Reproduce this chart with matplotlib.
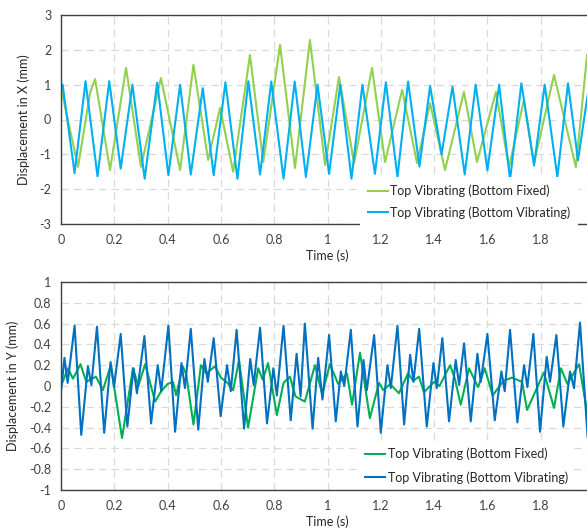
import matplotlib
matplotlib.use("Agg")
import matplotlib.pyplot as plt

plt.rcParams['font.family'] = ['Lato', 'DejaVu Sans']

# (time s, displacement mm) read at the turning points of each record
x_fixed = [(0, 0.9), (0.064, -1.36), (0.109, 0.76), (0.128, 1.16), (0.184, -1.45),
           (0.244, 1.48), (0.30, -1.36), (0.375, 1.19), (0.447, -1.45), (0.497, 1.57),
           (0.552, -1.16), (0.597, 0.33), (0.646, -1.5), (0.709, 1.85), (0.759, -1.22),
           (0.822, 2.14), (0.878, -1.39), (0.934, 2.28), (0.991, -1.31), (1.043, 1.22),
           (1.10, -1.25), (1.167, 1.48), (1.216, -1.22), (1.28, 0.85), (1.336, -1.25),
           (1.385, 0.47), (1.441, -1.45), (1.512, 0.79), (1.561, -1.22), (1.632, 0.79),
           (1.681, -1.37), (1.737, 0.56), (1.775, -1.25), (1.85, 1.28), (1.932, -1.37),
           (1.974, 1.85)]

x_vibr = [(0, 0.95), (0.006, 1.0), (0.051, -1.54), (0.092, 1.1), (0.137, -1.63),
          (0.181, 1.1), (0.224, -1.41), (0.268, 1.0), (0.314, -1.7), (0.361, 1.06),
          (0.403, -1.6), (0.447, 1.0), (0.487, -1.58), (0.532, 0.9), (0.573, -1.6),
          (0.617, 1.07), (0.662, -1.7), (0.703, 1.1), (0.747, -1.58), (0.789, 1.09),
          (0.835, -1.7), (0.877, 1.09), (0.919, -1.65), (0.9625, 1.0), (1.006, -1.56),
          (1.048, 1.0), (1.09, -1.7), (1.131, 1.0), (1.178, -1.56), (1.219, 1.07),
          (1.2625, -1.65), (1.3025, 1.09), (1.345, -1.35), (1.385, 0.96), (1.428, -1.0),
          (1.469, 0.94), (1.515, -1.58), (1.556, 1.0), (1.6, -1.46), (1.644, 1.0),
          (1.685, -1.73), (1.7275, 1.04), (1.775, -1.32), (1.815, 1.0), (1.8625, -1.65),
          (1.9025, 1.04), (1.94, -1.17), (1.976, 0.7)]

y_fixed = [(0, 0), (0.026, 0.17), (0.045, 0.07), (0.073, 0.21), (0.095, 0.04),
           (0.131, 0.09), (0.157, -0.04), (0.187, 0.2), (0.229, -0.5), (0.27, 0.17),
           (0.29, 0.0), (0.316, 0.21), (0.353, -0.15), (0.376, -0.05), (0.40, 0.02),
           (0.42, 0.04), (0.432, -0.09), (0.457, 0.19), (0.47, 0.11), (0.497, -0.37),
           (0.525, 0.2), (0.545, 0.12), (0.578, 0.19), (0.60, 0.08), (0.625, 0.03),
           (0.646, -0.04), (0.668, 0.25), (0.702, -0.4), (0.74, 0.17), (0.757, 0.06),
           (0.777, 0.22), (0.81, -0.28), (0.835, 0.03), (0.859, 0.09), (0.88, -0.1),
           (0.915, -0.15), (0.953, 0.2), (0.98, -0.08), (1.009, 0.21), (1.04, 0.02),
           (1.073, 0.12), (1.092, -0.18), (1.122, 0.32), (1.159, -0.31), (1.193, 0.03),
           (1.21, -0.04), (1.235, 0.02), (1.268, -0.07), (1.302, 0.12), (1.322, 0.05),
           (1.343, 0.09), (1.362, -0.06), (1.4, 0.04), (1.42, 0.0), (1.46, 0.2),
           (1.478, 0.07), (1.5, -0.18), (1.531, 0.17), (1.565, -0.01), (1.59, 0.17),
           (1.62, -0.09), (1.66, 0.05), (1.692, 0.08), (1.73, 0.04), (1.749, -0.23),
           (1.812, 0.13), (1.85, -0.21), (1.876, 0.17), (1.9, 0.02), (1.944, 0.21),
           (1.976, -0.28)]

y_vibr = [(0, -0.05), (0.013, 0.27), (0.025, 0.03), (0.051, 0.58), (0.076, -0.47),
          (0.101, 0.19), (0.114, 0.01), (0.135, 0.57), (0.162, -0.45), (0.186, 0.23),
          (0.199, -0.01), (0.224, 0.5), (0.249, -0.39), (0.272, 0.17), (0.285, -0.07),
          (0.313, 0.48), (0.338, -0.36), (0.363, 0.2), (0.376, -0.05), (0.403, 0.58),
          (0.428, -0.44), (0.452, 0.22), (0.465, -0.02), (0.487, 0.55), (0.515, -0.42),
          (0.538, 0.26), (0.551, 0.04), (0.573, 0.46), (0.599, -0.29), (0.623, 0.2),
          (0.637, -0.05), (0.659, 0.54), (0.687, -0.41), (0.71, 0.26), (0.723, 0.01),
          (0.747, 0.56), (0.773, -0.36), (0.797, 0.17), (0.81, -0.09), (0.835, 0.58),
          (0.862, -0.33), (0.884, 0.31), (0.899, -0.1), (0.915, 0.6), (0.944, -0.41),
          (0.965, 0.27), (0.981, -0.13), (1.006, 0.49), (1.031, -0.34), (1.05, 0.14),
          (1.063, 0.0), (1.0875, 0.54), (1.1125, -0.39), (1.135, 0.25), (1.1475, -0.04),
          (1.175, 0.49), (1.2, -0.45), (1.225, 0.2), (1.2375, -0.02), (1.2625, 0.58),
          (1.2875, -0.37), (1.31, 0.3), (1.3225, 0.04), (1.344, 0.55), (1.3725, -0.39),
          (1.3975, 0.22), (1.41, -0.02), (1.431, 0.46), (1.456, -0.34), (1.481, 0.25),
          (1.494, 0.01), (1.5125, 0.41), (1.5375, -0.34), (1.5625, 0.31), (1.575, 0.04),
          (1.6, 0.5), (1.6275, -0.33), (1.6525, 0.14), (1.665, -0.05), (1.685, 0.54),
          (1.7125, -0.35), (1.7375, 0.2), (1.75, -0.01), (1.7725, 0.5), (1.7975, -0.44),
          (1.8225, 0.28), (1.835, 0.04), (1.8588, 0.49), (1.885, -0.39), (1.91, 0.14),
          (1.925, -0.02), (1.9475, 0.61), (1.976, -0.49)]

x_ticks = [0, 0.2, 0.4, 0.6, 0.8, 1, 1.2, 1.4, 1.6, 1.8]
x_ticklabels = ['0', '0.2', '0.4', '0.6', '0.8', '1', '1.2', '1.4', '1.6', '1.8']
yx_ticks = [-3, -2, -1, 0, 1, 2, 3]
yy_ticks = [-1, -0.8, -0.6, -0.4, -0.2, 0, 0.2, 0.4, 0.6, 0.8, 1]
yy_ticklabels = ['-1', '-0.8', '-0.6', '-0.4', '-0.2', '0', '0.2', '0.4', '0.6', '0.8', '1']

labels = ['Top Vibrating (Bottom Fixed)', 'Top Vibrating (Bottom Vibrating)']

fig = plt.figure(figsize=(5.87, 5.29), dpi=100)
ax1 = fig.add_axes([61 / 587, 1 - 224 / 529, 533 / 587, 209 / 529])
ax2 = fig.add_axes([61 / 587, 1 - 490 / 529, 533 / 587, 208 / 529])


def style(ax, yticks, yticklabels, ylabel):
    ax.set_xlim(0, 2)
    ax.set_xticks(x_ticks)
    ax.set_xticklabels(x_ticklabels)
    ax.set_ylim(yticks[0], yticks[-1])
    ax.set_yticks(yticks)
    ax.set_yticklabels(yticklabels)
    ax.tick_params(length=0, labelsize=9, labelcolor='#404040', pad=7)
    ax.grid(True, color='#d9d9d9', linestyle=(0, (6, 4)), linewidth=0.9)
    ax.set_axisbelow(True)
    for s in ax.spines.values():
        s.set_color('#404040')
        s.set_linewidth(1.0)
    ax.set_xlabel('Time (s)', fontsize=9, color='#262626', labelpad=3)
    ax.set_ylabel(ylabel, fontsize=9, color='#262626', labelpad=7)


def draw(ax, data, color, label):
    t = [p[0] for p in data]
    v = [p[1] for p in data]
    ax.plot(t, v, color=color, lw=1.5, label=label, solid_joinstyle='round')


draw(ax1, x_fixed, '#92d050', labels[0])
draw(ax1, x_vibr, '#00b0f0', labels[1])
style(ax1, yx_ticks, [str(v) for v in yx_ticks], 'Displacement in X (mm)')

draw(ax2, y_fixed, '#00b050', labels[0])
draw(ax2, y_vibr, '#0070c0', labels[1])
style(ax2, yy_ticks, yy_ticklabels, 'Displacement in Y (mm)')

# legends sit on white boxes over the lower right of each plot
legend_opts = dict(loc='lower left', fontsize=9, frameon=True, fancybox=False,
                   framealpha=1, edgecolor='none', facecolor='white',
                   handlelength=1.6, handletextpad=0.2, borderaxespad=0)
leg1 = ax1.legend(bbox_to_anchor=(299 / 533, -0.01), labelspacing=0.71,
                  borderpad=0.6, **legend_opts)
leg2 = ax2.legend(bbox_to_anchor=(299 / 533, 0.006), labelspacing=0.87,
                  borderpad=0.4, **legend_opts)
for leg in (leg1, leg2):
    for txt in leg.get_texts():
        txt.set_color('#262626')

fig.savefig('out.png', dpi=100)
